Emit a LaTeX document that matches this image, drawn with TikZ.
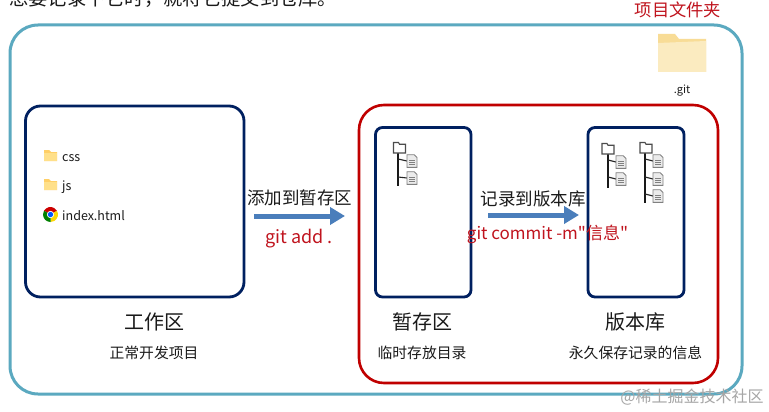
\documentclass[tikz,border=0pt]{standalone}
\usepackage{fontspec}
\setmainfont{Noto Sans}
\newfontfamily\cjk{Noto Sans CJK SC}
\usetikzlibrary{arrows.meta}
\definecolor{teal1}{HTML}{5BA9C0}
\definecolor{red1}{HTML}{C00000}
\definecolor{navy1}{HTML}{002060}
\definecolor{blue1}{HTML}{4A7EBB}
\definecolor{redtxt}{HTML}{C0141E}
\definecolor{fold1}{HTML}{FFCF66}
\definecolor{fold2}{HTML}{FFE08A}
\definecolor{bigf1}{HTML}{F8DC96}
\definecolor{bigf2}{HTML}{FBEBC0}
\definecolor{txt}{HTML}{1A1A1A}
\tikzset{
  x=1pt,y=-1pt,
  outerbox/.style={draw=teal1,line width=3pt,rounded corners=28pt},
  redbox/.style={draw=red1,line width=2.6pt,rounded corners=25pt},
  navybox/.style={draw=navy1,line width=2.8pt},
  lbl/.style={inner sep=0pt,text=txt,font=\cjk\fontsize{#1}{#1}\selectfont},
  redlbl/.style={inner sep=0pt,text=redtxt,font=\cjk\fontsize{#1}{#1}\selectfont},
  flow/.style={draw=blue1,line width=5pt,-{Triangle[length=15pt,width=17pt]}},
  smallfolder/.pic={
    \fill[fold1] (0,0) -- (5,0) -- (7,2) -- (13,2) -- (13,11) -- (0,11) -- cycle;
    \fill[fold2] (0,3) rectangle (13,11);
  },
  doc/.pic={
    \draw[black!50,line width=.9pt,fill=black!8] (-5,-6.3) -- (2.2,-6.3) -- (5,-3.5) -- (5,6.3) -- (-5,6.3) -- cycle;
    \draw[black!50,line width=.7pt] (-2.8,-1) -- (2.8,-1) (-2.8,1.2) -- (2.8,1.2) (-2.8,3.4) -- (2.8,3.4);
  },
  treefolder/.pic={
    \draw[black!70,line width=1.1pt,fill=white] (-6,-3.8) -- (-6,-5.5) -- (-1,-5.5) -- (0,-3.8) -- (6,-3.8) -- (6,5) -- (-6,5) -- cycle;
  },
  stem/.style={draw=black!90,line width=1.9pt},
  branch/.style={draw=black!85,line width=1.1pt}
}
\begin{document}
\begin{tikzpicture}
\useasboundingbox (0,0) rectangle (769,412);
\fill[white] (0,0) rectangle (769,412);
% cut-off top text
\node[lbl=19.3,anchor=west] (top) at (9,-1.5) {想要记录下它时，就将它提交到仓库。};
% boxes
\draw[outerbox] (10,25) rectangle (742,394);
\draw[redbox] (359,105) rectangle (718,383);
\draw[navybox,rounded corners=15pt] (25.5,106) rectangle (244,297);
\draw[navybox,rounded corners=7pt] (375.5,127.5) rectangle (471,297);
\draw[navybox,rounded corners=7pt] (588,127.5) rectangle (684,297);
% file list
\pic at (44,150) {smallfolder};
\node[lbl=12.5,anchor=west] (css) at (62,158) {css};
\pic at (44,179) {smallfolder};
\node[lbl=12.5,anchor=west] (js) at (62,187) {js};
\fill[red!80!black] (50.5,214.5) -- ++(210:7.5) arc (210:330:7.5) -- cycle;
\fill[yellow!75!orange] (50.5,214.5) -- ++(330:7.5) arc (330:450:7.5) -- cycle;
\fill[green!50!black] (50.5,214.5) -- ++(90:7.5) arc (90:210:7.5) -- cycle;
\fill[white] (50.5,214.5) circle (3.6);
\fill[blue!65!cyan] (50.5,214.5) circle (2.7);
\node[lbl=12.5,anchor=west] (index) at (62,216) {index.html};
% big folder
\fill[bigf1] (658,34) -- (675,34) -- (679,39) -- (706,39) -- (706,72) -- (658,72) -- cycle;
\fill[bigf2] (658,43) -- (706,41) -- (706,72) -- (658,72) -- cycle;
\node[lbl=11] (gitlabel) at (682,91) {.git};
\node[redlbl=17.3] (proj) at (678,10) {项目文件夹};
% stage tree
\draw[stem] (398,150) -- (398,186);
\draw[branch] (398,159) -- (407,161) (398,177) -- (407,178);
\pic at (399.5,148) {treefolder};
\pic at (412,161) {doc};
\pic at (412,178) {doc};
% repo trees
\draw[stem] (608,151) -- (608,188);
\draw[branch] (608,160) -- (616,162) (608,177) -- (616,179);
\pic at (608,149) {treefolder};
\pic at (621,162) {doc};
\pic at (621,179) {doc};
\draw[stem] (645,151) -- (645,203);
\draw[branch] (645,159) -- (653,161) (645,177) -- (653,179) (645,194) -- (653,196);
\pic at (646,148) {treefolder};
\pic at (658,161) {doc};
\pic at (658,179) {doc};
\pic at (658,196) {doc};
% arrows
\coordinate (a1s) at (254,216);
\coordinate (a1e) at (345,216);
\coordinate (a2s) at (488,215);
\coordinate (a2e) at (579,215);
\draw[flow] (a1s) -- (a1e);
\draw[flow] (a2s) -- (a2e);
% labels
\node[lbl=17.5] (addz) at (299.5,197.5) {添加到暂存区};
\node[redlbl=18] (adden) at (299,238.5) {git add .};
\node[lbl=17.5] (comz) at (533,198.5) {记录到版本库};
\node[redlbl=17] (comen) at (547.5,234) {git commit -m"信息"};
\node[lbl=20] (w1) at (154,322) {工作区};
\node[lbl=14.8] (w2) at (154,352.5) {正常开发项目};
\node[lbl=20] (s1) at (422,322) {暂存区};
\node[lbl=14.8] (s2) at (422,352.5) {临时存放目录};
\node[lbl=20] (r1) at (635,322) {版本库};
\node[lbl=14.8] (r2) at (635.5,352.5) {永久保存记录的信息};
% watermark
\node[inner sep=0pt,text=black!35,font=\cjk\fontsize{16}{16}\selectfont] (wm) at (692,397) {@稀土掘金技术社区};
\end{tikzpicture}
\end{document}
